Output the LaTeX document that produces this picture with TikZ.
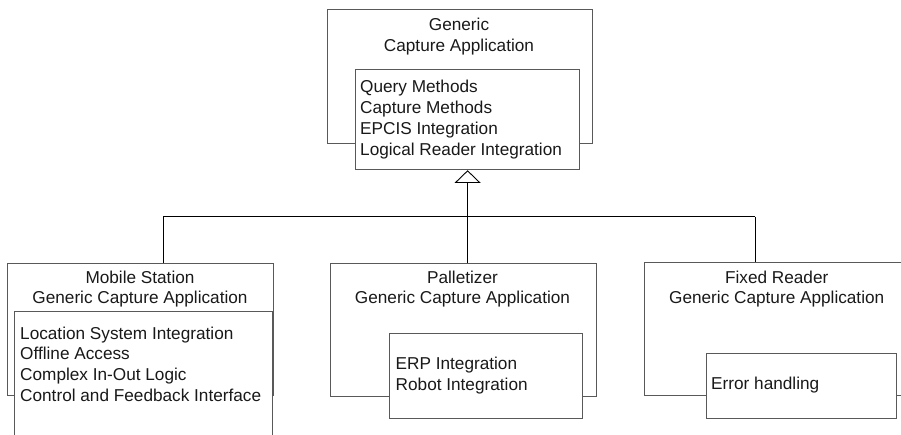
\documentclass[tikz,border=0pt]{standalone}
\usepackage{fontspec}
\setmainfont{Liberation Sans}
\usetikzlibrary{arrows.meta}
\definecolor{boxgray}{rgb}{0.35,0.35,0.35}
\definecolor{txt}{rgb}{0.1,0.1,0.1}
\begin{document}
\begin{tikzpicture}[x=1pt,y=-1pt,
  box/.style={draw=boxgray,line width=0.9pt,rectangle,inner sep=0pt,anchor=north west},
  inbox/.style={box,fill=white},
  ttl/.style={inner sep=0pt,align=center,text=txt,font=\fontsize{17.2}{20.7}\selectfont},
  lst/.style={inner sep=0pt,align=left,anchor=west,text=txt,font=\fontsize{17.2}{20.7}\selectfont},
  conn/.style={draw=black,line width=0.9pt}]
\useasboundingbox (0,0) rectangle (901,434);
\clip (0,0) rectangle (901,434);
% outer boxes
\node[box,minimum width=265pt,minimum height=133.4pt] (gen) at (326.7,9.3) {};
\node[box,minimum width=266pt,minimum height=131.7pt] (mob) at (7.3,263.3) {};
\node[box,minimum width=265.7pt,minimum height=132.4pt] (pal) at (330,263.3) {};
\node[box,minimum width=265pt,minimum height=133pt] (fix) at (644.3,262.3) {};
% titles
\node[ttl] (gent) at (459,36.5) {Generic\\Capture Application};
\node[ttl] (mobt) at (140,289) {Mobile Station\\Generic Capture Application};
\node[ttl] (palt) at (462.5,289) {Palletizer\\Generic Capture Application};
\node[ttl] (fixt) at (776.7,289) {Fixed Reader\\Generic Capture Application};
% inner boxes
\node[inbox,minimum width=224.3pt,minimum height=100pt] (gin) at (355,69.3) {};
\node[inbox,minimum width=257.7pt,minimum height=140pt] (min) at (14,311) {};
\node[inbox,minimum width=192.4pt,minimum height=85pt] (pin) at (389.3,333.3) {};
\node[inbox,minimum width=189.7pt,minimum height=65pt] (fin) at (706,353.3) {};
% inner texts
\node[lst] (gint) at (360,119.5) {Query Methods\\Capture Methods\\EPCIS Integration\\Logical Reader Integration};
\node[lst] (mint) at (20,364) {Location System Integration\\Offline Access\\Complex In-Out Logic\\Control and Feedback Interface};
\node[lst] (pint) at (395.5,375.5) {ERP Integration\\Robot Integration};
\node[lst] (fint) at (711,385.5) {Error handling};
% connectors
\coordinate (jl) at (163,216.7);
\coordinate (jr) at (755,216.7);
\draw[conn] (jl) -- (jr);
\draw[conn] (jl) -- (jl |- mob.north);
\draw[conn] (jr) -- (jr |- fix.north);
\draw[conn,-{Triangle[open,length=12.7pt,width=26pt,line width=0.9pt]}] (gin.south |- pal.north) -- (gin.south);
\end{tikzpicture}
\end{document}
